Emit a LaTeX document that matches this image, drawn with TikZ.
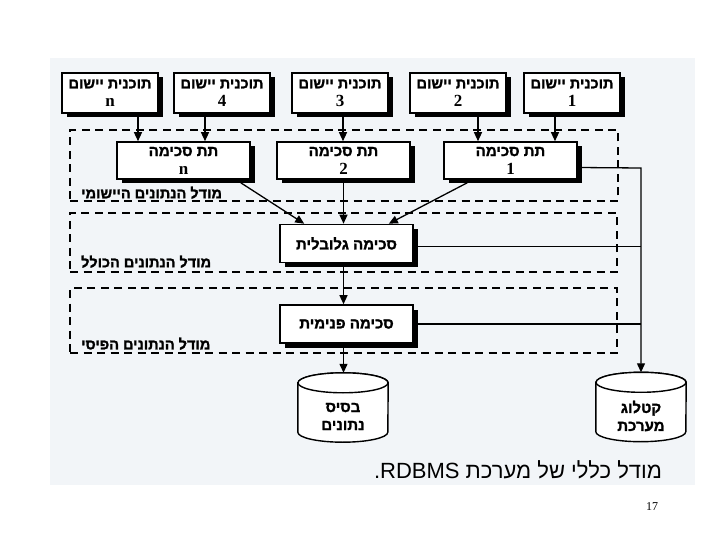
\documentclass[tikz,border=0pt]{standalone}
\usepackage{fontspec}
\usetikzlibrary{arrows.meta,shadows}
\TeXXeTstate=1
\setmainfont{Liberation Serif}
\newfontfamily\hebfont[Script=Hebrew]{Liberation Sans}
\newfontfamily\hebbold[Script=Hebrew, FakeBold=1.6]{Liberation Sans Bold}
\newfontfamily\numfont{Liberation Serif Bold}
\newcommand\hb[1]{{\hebbold\beginR #1\endR}}
\newcommand\nm[1]{{\numfont\fontsize{17}{18}\selectfont #1}}
\definecolor{scanbg}{RGB}{242,245,248}
\tikzset{
  boxbase/.style={draw=black, line width=1.6pt, fill=white, align=center, inner sep=0pt,
    drop shadow={shadow xshift=4.5pt, shadow yshift=-4.5pt, fill=black, opacity=1},
    font=\fontsize{15}{18}\selectfont},
  appbox/.style={boxbase, minimum width=96pt, minimum height=40pt, font=\fontsize{14.5}{18}\selectfont},
  subbox/.style={boxbase, minimum width=133pt, minimum height=37pt},
  schbox/.style={boxbase, minimum width=133pt, minimum height=38pt},
  layer/.style={draw=black, line width=2pt, dash pattern=on 8pt off 5.5pt, inner sep=0pt},
  lbl/.style={font=\fontsize{14.5}{16}\selectfont, inner sep=0pt},
  conn/.style={line width=1.3pt},
  arr/.style={conn, -{Triangle[length=9pt,width=8pt]}},
  cylbox/.style={minimum width=90pt, minimum height=69pt, inner sep=0pt},
  cyl/.style={draw=black, line width=1.4pt, fill=white},
  cyltext/.style={align=center, font=\fontsize{15}{18}\selectfont, inner sep=0pt}
}
\begin{document}
\begin{tikzpicture}[x=1pt,y=-1pt]
\useasboundingbox (0,0) rectangle (720,540);
\fill[scanbg] (50,58) rectangle (695,485);

% layers
\node[layer, minimum width=548pt, minimum height=71pt] (L1) at (344,165.5) {};
\node[layer, minimum width=547pt, minimum height=59pt] (L2) at (343.5,242.5) {};
\node[layer, minimum width=547pt, minimum height=65pt] (L3) at (343.5,320.5) {};
\node[lbl, anchor=south west] (lab1) at (81,199) {\hb{מודל הנתונים היישומי}};
\node[lbl, anchor=south west] (lab2) at (81,268) {\hb{מודל הנתונים הכולל}};
\node[lbl, anchor=south west] (lab3) at (81,350) {\hb{מודל הנתונים הפיסי}};

% application programs
\node[appbox] (appn) at (110,93) {\hb{תוכנית יישום}\\\nm{n}};
\node[appbox] (app4) at (222,93) {\hb{תוכנית יישום}\\\nm{4}};
\node[appbox] (app3) at (340,93) {\hb{תוכנית יישום}\\\nm{3}};
\node[appbox] (app2) at (458,93) {\hb{תוכנית יישום}\\\nm{2}};
\node[appbox] (app1) at (572,93) {\hb{תוכנית יישום}\\\nm{1}};

% subschemas
\node[subbox] (subn) at (183.5,160.5) {\hb{תת סכימה}\\\nm{n}};
\node[subbox] (sub2) at (343.5,160.5) {\hb{תת סכימה}\\\nm{2}};
\node[subbox] (sub1) at (510.5,160.5) {\hb{תת סכימה}\\\nm{1}};

% schemas
\node[schbox] (glob) at (346.5,243.5) {\hb{סכימה גלובלית}};
\node[schbox] (intl) at (346.5,324) {\hb{סכימה פנימית}};

% cylinders
\node[cylbox] (db) at (343,407.5) {};
\node[cylbox] (cat) at (641,407) {};
\foreach \c in {db,cat}{
  \draw[cyl] ([yshift=-10pt]\c.north west) -- ([yshift=10pt]\c.south west)
    arc[start angle=180, end angle=360, x radius=45pt, y radius=10pt]
    -- ([yshift=-10pt]\c.north east)
    arc[start angle=0, end angle=180, x radius=45pt, y radius=10pt] -- cycle;
  \draw[cyl] ([yshift=-10pt]\c.north) ellipse[x radius=45pt, y radius=10pt];
}
\node[cyltext] (dbt) at ([yshift=-9pt]db.center) {\hb{בסיס}\\\hb{נתונים}};
\node[cyltext] (catt) at ([yshift=-9pt]cat.center) {\hb{קטלוג}\\\hb{מערכת}};

% arrows app -> sub
\draw[arr] ([xshift=28pt]appn.south) -- ([xshift=28pt]appn.south |- subn.north);
\draw[arr] ([xshift=-17pt]app4.south) -- ([xshift=-17pt]app4.south |- subn.north);
\draw[arr] ([xshift=3pt]app3.south) -- ([xshift=3pt]app3.south |- sub2.north);
\draw[arr] ([xshift=20pt]app2.south) -- ([xshift=20pt]app2.south |- sub1.north);
\draw[arr] ([xshift=-17pt]app1.south) -- ([xshift=-17pt]app1.south |- sub1.north);

% sub -> global
\draw[arr] ([xshift=-10pt,yshift=-3pt]subn.south east) -- ([xshift=25pt]glob.north west);
\draw[arr] (sub2.south) -- (sub2.south |- glob.north);
\draw[arr] ([xshift=24pt,yshift=-3pt]sub1.south west) -- ([xshift=-25pt]glob.north east);

% global -> internal -> db
\draw[arr] ([xshift=-3pt]glob.south) -- ([xshift=-3pt]glob.south |- intl.north);
\draw[arr] ([xshift=-3pt]intl.south) -- ([xshift=-3pt]intl.south |- db.north);

% catalog bus
\coordinate (bus) at (641,168);
\draw[arr] ([yshift=-7pt]sub1.east) -- (bus) -- (cat.north);
\draw[conn] ([yshift=-3pt]glob.east) -- ([yshift=-3pt]glob.east -| bus);
\draw[conn] (intl.east) -- (intl.east -| bus);

% caption and page number
\node[inner sep=0pt, font=\fontsize{22}{24}\selectfont] (cap) at (518,470) {\hebfont\beginR מודל כללי של מערכת \beginL RDBMS\endL.\endR};
\node[inner sep=0pt, font=\fontsize{12}{14}\selectfont] (pg) at (652,507) {17};
\end{tikzpicture}
\end{document}
